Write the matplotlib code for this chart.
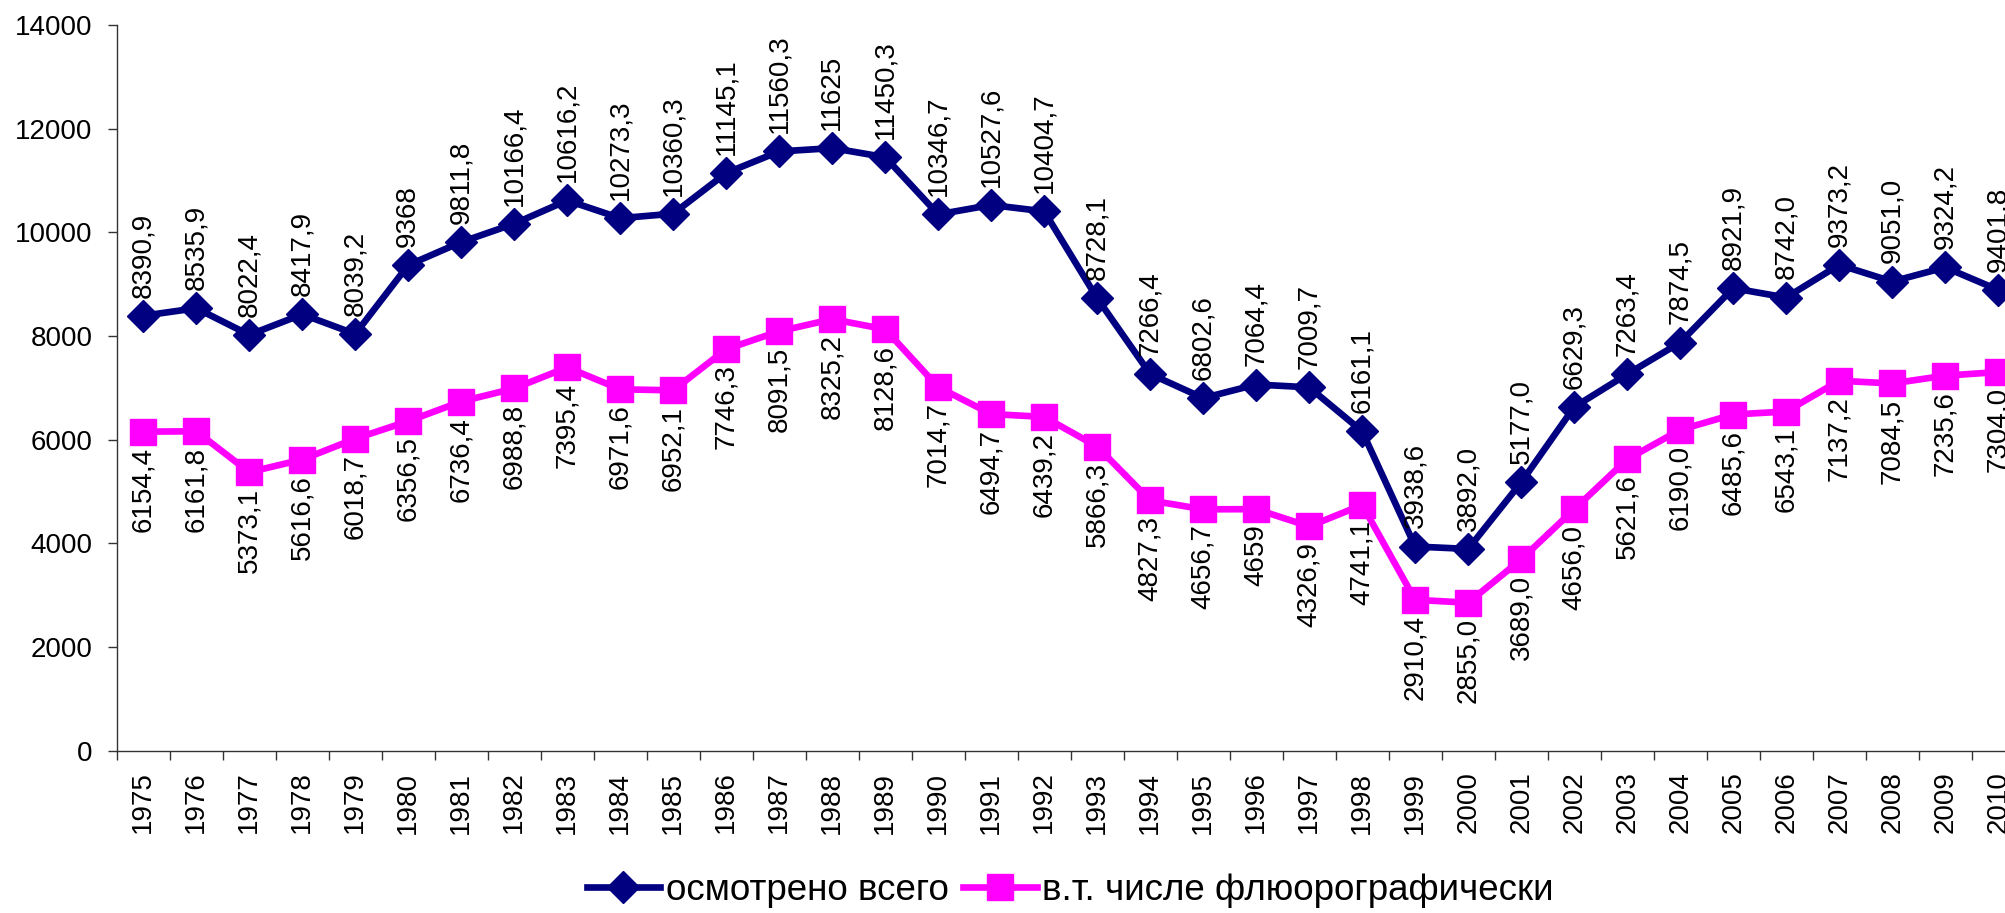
import matplotlib.pyplot as plt
import numpy as np

plt.rcParams['font.family'] = ['Liberation Sans', 'DejaVu Sans']

years = [str(y) for y in range(1975, 2011)]

# осмотрено всего
total = [8390.9, 8535.9, 8022.4, 8417.9, 8039.2, 9368, 9811.8, 10166.4, 10616.2, 10273.3,
         10360.3, 11145.1, 11560.3, 11625, 11450.3, 10346.7, 10527.6, 10404.7, 8728.1, 7266.4,
         6802.6, 7064.4, 7009.7, 6161.1, 3938.6, 3892.0, 5177.0, 6629.3, 7263.4, 7874.5,
         8921.9, 8742.0, 9373.2, 9051.0, 9324.2, 8890]
total_lbl = ['8390,9', '8535,9', '8022,4', '8417,9', '8039,2', '9368', '9811,8', '10166,4',
             '10616,2', '10273,3', '10360,3', '11145,1', '11560,3', '11625', '11450,3',
             '10346,7', '10527,6', '10404,7', '8728,1', '7266,4', '6802,6', '7064,4', '7009,7',
             '6161,1', '3938,6', '3892,0', '5177,0', '6629,3', '7263,4', '7874,5', '8921,9',
             '8742,0', '9373,2', '9051,0', '9324,2', '9401,8']

# в т.ч. флюорографически
fluoro = [6154.4, 6161.8, 5373.1, 5616.6, 6018.7, 6356.5, 6736.4, 6988.8, 7395.4, 6971.6,
          6952.1, 7746.3, 8091.5, 8325.2, 8128.6, 7014.7, 6494.7, 6439.2, 5866.3, 4827.3,
          4656.7, 4659, 4326.9, 4741.1, 2910.4, 2855.0, 3689.0, 4656.0, 5621.6, 6190.0,
          6485.6, 6543.1, 7137.2, 7084.5, 7235.6, 7304.0]
fluoro_lbl = ['6154,4', '6161,8', '5373,1', '5616,6', '6018,7', '6356,5', '6736,4', '6988,8',
              '7395,4', '6971,6', '6952,1', '7746,3', '8091,5', '8325,2', '8128,6', '7014,7',
              '6494,7', '6439,2', '5866,3', '4827,3', '4656,7', '4659', '4326,9', '4741,1',
              '2910,4', '2855,0', '3689,0', '4656,0', '5621,6', '6190,0', '6485,6', '6543,1',
              '7137,2', '7084,5', '7235,6', '7304,0']

fig = plt.figure(figsize=(20.06, 9.13), dpi=100)
# ось уходит чуть за правый край, как на исходной картинке
ax = fig.add_axes([0.0582, 0.1778, 0.9511, 0.7948])

x = np.arange(len(years))
ax.plot(x, total, color='#000080', lw=4.8, marker='D', ms=16, label='осмотрено всего')
ax.plot(x, fluoro, color='#FF00FF', lw=4.8, marker='s', ms=19, label='в.т. числе флюорографически')

# подписи значений
for xi, v, s in zip(x, total, total_lbl):
    ax.annotate(s, (xi, v), xytext=(0, 13), textcoords='offset points',
                rotation=90, ha='center', va='bottom', fontsize=20)
for xi, v, s in zip(x, fluoro, fluoro_lbl):
    ax.annotate(s, (xi, v), xytext=(0, -11), textcoords='offset points',
                rotation=90, ha='center', va='top', fontsize=20)

ax.set_xlim(-0.5, len(years) - 0.5)
ax.set_ylim(0, 14000)
ax.set_yticks(np.arange(0, 14001, 2000))

ax.set_xticks(np.arange(-0.5, len(years), 1))
ax.set_xticklabels([])
ax.set_xticks(x, minor=True)
ax.set_xticklabels(years, minor=True, rotation=90)
ax.tick_params(axis='x', which='major', length=6.5, width=1, color='#333333')
ax.tick_params(axis='x', which='minor', length=0, pad=15, labelsize=20)
ax.tick_params(axis='y', length=6.5, width=1, color='#333333', pad=11, labelsize=20)

for side in ['top', 'right']:
    ax.spines[side].set_visible(False)
for side in ['left', 'bottom']:
    ax.spines[side].set_color('#333333')
    ax.spines[side].set_linewidth(1)

fig.legend(loc='center', bbox_to_anchor=(0.5335, 0.025), ncol=2, frameon=False,
           fontsize=26.5, handlelength=2.0, handletextpad=0.15, columnspacing=0.4,
           borderpad=0)

fig.savefig('out.png', dpi=100)
